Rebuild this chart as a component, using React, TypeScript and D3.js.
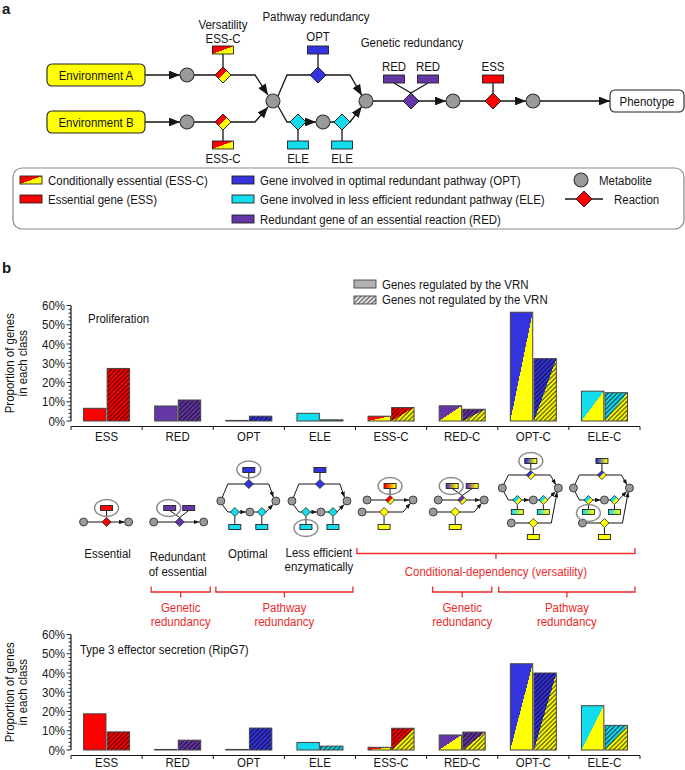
import React from 'react';
import * as d3 from 'd3';

// ---- data (percent of genes in each class) ----
const categories = ['ESS', 'RED', 'OPT', 'ELE', 'ESS-C', 'RED-C', 'OPT-C', 'ELE-C'];
const proliferationRegulated = [6.6, 7.8, 0.3, 4.0, 2.5, 7.9, 56.5, 15.5];
const proliferationNotRegulated = [27.3, 10.9, 2.5, 0.6, 7.0, 6.1, 32.4, 14.7];
const secretionRegulated = [18.8, 0.3, 0.3, 3.9, 1.4, 7.8, 44.8, 23.0];
const secretionNotRegulated = [9.4, 5.1, 11.4, 2.0, 11.3, 9.3, 40.0, 12.8];
const yTicks = [0, 10, 20, 30, 40, 50, 60];
const groups = ['regulated', 'notRegulated'];

// ---- styles ----
const C = {
  red: '#ff0000',
  yellow: '#ffff00',
  blue: '#3434de',
  cyan: '#14dcef',
  purple: '#6537a6',
  grey: '#9a9a9a',
  note: '#ec2b2b',
  ink: '#151515',
};
const pairs: Record<string, [string, string]> = {
  ry: [C.red, C.yellow],
  py: [C.purple, C.yellow],
  by: [C.blue, C.yellow],
  cy: [C.cyan, C.yellow],
};
// colour key of each category (single colour or a pair)
const catFill = [C.red, C.purple, C.blue, C.cyan, 'ry', 'py', 'by', 'cy'];
const catDiagram = ['ess', 'red', 'opt', 'ele', 'essc', 'redc', 'optc', 'elec'];

const FONT = "'Liberation Sans', Arial, Helvetica, sans-serif";
const SX = 0.85;

const solid = (k: string) => (pairs[k] ? `url(#split-${k})` : k);
const smooth = (k: string) => (pairs[k] ? `url(#grad-${k})` : k);

function T({ x, y, children, anchor = 'start', size = 13.5, fill = C.ink, weight = 'normal', rotate = 0, sx = SX }: any) {
  return (
    <text
      transform={`translate(${x},${y})${rotate ? ` rotate(${rotate})` : ''} scale(${sx},1)`}
      textAnchor={anchor}
      fontSize={size}
      fill={fill}
      fontWeight={weight}
      fontFamily={FONT}
    >
      {children}
    </text>
  );
}

const Dot = ({ x, y, r }: any) => (
  <circle cx={x} cy={y} r={r} fill={C.grey} stroke="#333" strokeWidth={r > 5 ? 1.1 : 0.9} />
);
const Diamond = ({ x, y, h, fill }: any) => (
  <polygon
    points={`${x},${y - h} ${x + h},${y} ${x},${y + h} ${x - h},${y}`}
    fill={fill}
    stroke="#222"
    strokeWidth={h > 5 ? 1 : 0.8}
  />
);
const Box = ({ x, y, w, h, fill }: any) => (
  <rect x={x - w / 2} y={y - h / 2} width={w} height={h} fill={fill} stroke="#222" strokeWidth={0.9} />
);
const Path = ({ pts, arrow, w = 1.3 }: any) => (
  <polyline
    points={pts.map((p: number[]) => p.join(',')).join(' ')}
    fill="none"
    stroke={C.ink}
    strokeWidth={w}
    markerEnd={arrow ? `url(#${arrow})` : undefined}
  />
);

function Defs() {
  return (
    <defs>
      {Object.entries(pairs).map(([k, [a, b]]) => (
        <React.Fragment key={k}>
          <linearGradient id={`split-${k}`} x1="0" y1="0" x2="1" y2="1">
            <stop offset="0" stopColor={a} />
            <stop offset="0.5" stopColor={a} />
            <stop offset="0.5" stopColor={b} />
            <stop offset="1" stopColor={b} />
          </linearGradient>
          <linearGradient id={`grad-${k}`} x1="0" y1="0" x2="1" y2="0">
            <stop offset="0.1" stopColor={a} />
            <stop offset="0.9" stopColor={b} />
          </linearGradient>
        </React.Fragment>
      ))}
      <pattern id="hatch" patternUnits="userSpaceOnUse" width={3.2} height={3.2} patternTransform="rotate(45)">
        <line x1={0.8} y1={0} x2={0.8} y2={3.2} stroke="rgba(0,0,0,0.55)" strokeWidth={1.5} />
      </pattern>
      <pattern id="hatchKey" patternUnits="userSpaceOnUse" width={3.2} height={3.2} patternTransform="rotate(45)">
        <line x1={0.8} y1={0} x2={0.8} y2={3.2} stroke="#6a6a6a" strokeWidth={1.3} />
      </pattern>
      <marker id="arrA" viewBox="0 0 10 8" refX={10} refY={4} markerWidth={11} markerHeight={8.8} markerUnits="userSpaceOnUse" orient="auto">
        <path d="M0,0 L10,4 L0,8 z" fill={C.ink} />
      </marker>
      <marker id="arrB" viewBox="0 0 10 8" refX={10} refY={4} markerWidth={5.5} markerHeight={4.4} markerUnits="userSpaceOnUse" orient="auto">
        <path d="M0,0 L10,4 L0,8 z" fill={C.ink} />
      </marker>
    </defs>
  );
}

// ---------------- panel a ----------------
function PanelA() {
  const gw = 21;
  const gh = 8;
  const circles = [[187, 75], [187, 122], [273, 101], [323, 122], [366, 101], [453, 101], [533, 101]];
  const diamonds: [number, number, string][] = [
    [223, 75, solid('ry')], [223, 122, solid('ry')], [318, 75, C.blue], [298, 122, C.cyan],
    [342, 122, C.cyan], [411, 101, C.purple], [493, 101, C.red],
  ];
  const boxes: [number, number, string][] = [
    [223, 50, solid('ry')], [223, 145, solid('ry')], [318, 50, C.blue], [298, 145, C.cyan],
    [342, 145, C.cyan], [394, 79, C.purple], [428, 79, C.purple], [493, 79, C.red],
  ];
  return (
    <g>
      <T x={2} y={14} size={15} weight="bold" sx={1}>a</T>

      <Path pts={[[145, 75], [180, 75]]} arrow="arrA" />
      <Path pts={[[194, 75], [255, 75], [268, 95]]} arrow="arrA" />
      <Path pts={[[145, 122], [180, 122]]} arrow="arrA" />
      <Path pts={[[194, 122], [255, 122], [268, 107]]} arrow="arrA" />
      <Path pts={[[223, 54], [223, 67]]} />
      <Path pts={[[223, 130], [223, 141]]} />
      <Path pts={[[278, 96], [287, 75], [350, 75], [361.8, 95.5]]} arrow="arrA" />
      <Path pts={[[318, 54], [318, 67]]} />
      <Path pts={[[278, 106], [287, 122], [316, 122]]} arrow="arrA" />
      <Path pts={[[330, 122], [350, 122], [361.8, 106.6]]} arrow="arrA" />
      <Path pts={[[298, 130], [298, 141]]} />
      <Path pts={[[342, 130], [342, 141]]} />
      <Path pts={[[373, 101], [446, 101]]} arrow="arrA" />
      <Path pts={[[394, 83], [411, 93]]} />
      <Path pts={[[428, 83], [411, 93]]} />
      <Path pts={[[460, 101], [526, 101]]} arrow="arrA" />
      <Path pts={[[493, 83], [493, 93]]} />
      <Path pts={[[540, 101], [610, 101]]} arrow="arrA" />

      {[['Environment A', 75], ['Environment B', 122]].map(([label, ry]: any) => (
        <g key={label}>
          <rect x={47} y={ry - 11} width={98} height={22} rx={5} fill={C.yellow} stroke="#222" strokeWidth={1.1} />
          <T x={96} y={ry + 4.5} anchor="middle">{label}</T>
        </g>
      ))}
      <rect x={610} y={90} width={74} height={22} rx={5} fill="#fff" stroke="#222" strokeWidth={1.1} />
      <T x={647} y={105.5} anchor="middle">Phenotype</T>

      {circles.map(([x, y], i) => <Dot key={i} x={x} y={y} r={7} />)}
      {diamonds.map(([x, y, f], i) => <Diamond key={i} x={x} y={y} h={8} fill={f} />)}
      {boxes.map(([x, y, f], i) => <Box key={i} x={x} y={y} w={gw} h={gh} fill={f} />)}

      <T x={223} y={29} anchor="middle">Versatility</T>
      <T x={223} y={43} anchor="middle">ESS-C</T>
      <T x={316} y={21} anchor="middle">Pathway redundancy</T>
      <T x={318} y={41} anchor="middle">OPT</T>
      <T x={412} y={47} anchor="middle">Genetic redundancy</T>
      <T x={394} y={71} anchor="middle">RED</T>
      <T x={428} y={71} anchor="middle">RED</T>
      <T x={493} y={71} anchor="middle">ESS</T>
      <T x={223} y={163} anchor="middle">ESS-C</T>
      <T x={298} y={163} anchor="middle">ELE</T>
      <T x={342} y={163} anchor="middle">ELE</T>

      {/* key */}
      <rect x={13} y={168} width={671} height={61} rx={9} fill="#fff" stroke="#8a8a8a" strokeWidth={1.2} />
      {[
        [20, 180, solid('ry'), 'Conditionally essential (ESS-C)'],
        [20, 199, C.red, 'Essential gene (ESS)'],
        [232, 180, C.blue, 'Gene involved in optimal redundant pathway (OPT)'],
        [232, 199, C.cyan, 'Gene involved in less efficient redundant pathway (ELE)'],
        [232, 219, C.purple, 'Redundant gene of an essential reaction (RED)'],
      ].map(([x, y, f, label]: any) => (
        <g key={label}>
          <rect x={x} y={y - 4} width={22} height={8} fill={f} stroke="#222" strokeWidth={0.9} />
          <T x={x + 28} y={y + 4.5}>{label}</T>
        </g>
      ))}
      <Dot x={581} y={180} r={7} />
      <T x={599} y={184.5}>Metabolite</T>
      <Path pts={[[565, 199], [603, 199]]} w={1.6} />
      <Diamond x={584} y={199} h={8} fill={C.red} />
      <T x={614} y={203.5}>Reaction</T>
    </g>
  );
}

// ---------------- panel b ----------------
const AX0 = 71;
const AX1 = 640;
const x = d3.scaleBand().domain(categories).range([AX0, AX1]);
const xs = d3.scaleBand().domain(groups).range([0, 46]).paddingInner(0.05);
const barOffset = (x.bandwidth() - 46) / 2;
const cx = (c: string) => (x(c) as number) + x.bandwidth() / 2;

function BarChart({ zeroY, reg, notReg, title, titleX, titleY, labelDy = 20 }: any) {
  const y = d3.scaleLinear().domain([0, 60]).range([zeroY, zeroY - 115.5]);
  const minor = d3.range(0, 61, 2);
  const axisY = zeroY + 5.5;
  const bounds = [...categories.map((c) => x(c) as number), AX1];
  return (
    <g>
      <line x1={AX0} x2={AX0} y1={y(0)} y2={y(60)} stroke={C.ink} strokeWidth={1.2} />
      {minor.map((v) => (
        <line key={v} x1={AX0 - (v % 10 === 0 ? 4.5 : 2.5)} x2={AX0} y1={y(v)} y2={y(v)} stroke={C.ink} strokeWidth={0.9} />
      ))}
      {yTicks.map((v) => (
        <T key={v} x={AX0 - 6} y={y(v) + 4.5} anchor="end">{`${v}%`}</T>
      ))}
      <T x={14} y={y(30)} anchor="middle" rotate={-90}>Proportion of genes</T>
      <T x={27} y={y(30)} anchor="middle" rotate={-90}>in each class</T>

      <line x1={AX0} x2={AX1} y1={axisY} y2={axisY} stroke={C.ink} strokeWidth={1.2} />
      {bounds.map((b, i) => (
        <line key={i} x1={b} x2={b} y1={axisY} y2={axisY + 3.5} stroke={C.ink} strokeWidth={1} />
      ))}
      {categories.map((c) => (
        <T key={c} x={cx(c)} y={zeroY + labelDy} anchor="middle">{c}</T>
      ))}

      {categories.map((c, i) =>
        groups.map((g) => {
          const v = g === 'regulated' ? reg[i] : notReg[i];
          const bx = (x(c) as number) + barOffset + (xs(g) as number);
          const by = y(v);
          const bw = xs.bandwidth();
          const bh = zeroY - by;
          return (
            <g key={c + g}>
              <rect x={bx} y={by} width={bw} height={bh} fill={solid(catFill[i])} />
              {g === 'notRegulated' && <rect x={bx} y={by} width={bw} height={bh} fill="url(#hatch)" />}
              <rect x={bx} y={by} width={bw} height={bh} fill="none" stroke="#444" strokeWidth={1} />
            </g>
          );
        })
      )}
      <T x={titleX} y={titleY}>{title}</T>
    </g>
  );
}

// small schematics of each gene class, positioned on the category centres
function Schematic({ kind, ox }: any) {
  const P = (pts: number[][], arrow?: boolean) => (
    <Path pts={pts.map(([a, b]) => [ox + a, b])} arrow={arrow ? 'arrB' : undefined} w={1} />
  );
  const D = (a: number, b: number, f: string) => <Diamond x={ox + a} y={b} h={4.5} fill={f} />;
  const O = (a: number, b: number) => <Dot x={ox + a} y={b} r={4} />;
  const B = (a: number, b: number, f: string) => <Box x={ox + a} y={b} w={12} h={5} fill={f} />;
  const R = (a: number, b: number) => (
    <ellipse cx={ox + a} cy={b} rx={12} ry={8.5} fill="none" stroke="#8a8a8a" strokeWidth={1.4} />
  );

  if (kind === 'ess') {
    return (
      <g>
        {P([[-19, 522], [18, 522]], true)}
        {P([[0, 510.5], [0, 517.5]])}
        {O(-23, 522)}{O(22, 522)}
        {D(0, 522, C.red)}
        {B(0, 508, C.red)}
        {R(0, 508)}
      </g>
    );
  }
  if (kind === 'red') {
    return (
      <g>
        {P([[-20, 522], [21.5, 522]], true)}
        {P([[-8, 510.5], [2, 517.5]])}
        {P([[11, 510.5], [2, 517.5]])}
        {O(-24, 522)}{O(26, 522)}
        {D(2, 522, C.purple)}
        {B(-8, 508, C.purple)}{B(11, 508, C.purple)}
        {R(-9, 508)}
      </g>
    );
  }
  if (kind === 'opt' || kind === 'ele') {
    return (
      <g>
        {P([[-26.5, 497.3], [-21, 484], [20, 484], [24.5, 497.2]], true)}
        {P([[0, 472.5], [0, 479.5]])}
        {P([[-26.5, 504.7], [-21, 512], [-3, 512]], true)}
        {P([[5, 512], [17, 512], [24.3, 504.5]], true)}
        {P([[-14, 516.5], [-14, 524.5]])}
        {P([[13, 516.5], [13, 524.5]])}
        {O(-28, 501)}{O(27, 501)}{O(1, 512)}
        {D(0, 484, C.blue)}
        {D(-14, 512, C.cyan)}{D(13, 512, C.cyan)}
        {B(0, 470, C.blue)}
        {B(-14, 527, C.cyan)}{B(13, 527, C.cyan)}
        {kind === 'opt' ? R(0, 469.5) : R(-14, 528)}
      </g>
    );
  }
  if (kind === 'essc' || kind === 'redc') {
    const isEss = kind === 'essc';
    const k = isEss ? 'ry' : 'py';
    return (
      <g>
        {P([[-20, 500], [18, 500]], true)}
        {isEss ? P([[-1, 488.5], [-1, 495.5]]) : null}
        {!isEss ? P([[-10, 488.5], [0, 495.5]]) : null}
        {!isEss ? P([[10, 488.5], [0, 495.5]]) : null}
        {P([[-25, 512], [12, 512], [19.4, 503.2]], true)}
        {P([[-7, 516.5], [-7, 524.5]])}
        {O(-24, 500)}{O(22, 500)}{O(-29, 512)}
        {D(isEss ? -1 : 0, 500, solid(k))}
        {D(-7, 512, C.yellow)}
        {isEss ? B(-1, 486, smooth(k)) : null}
        {!isEss ? B(-10, 486, smooth(k)) : null}
        {!isEss ? B(10, 486, smooth(k)) : null}
        {B(-7, 527, C.yellow)}
        {isEss ? R(-1, 486) : R(-11, 486)}
      </g>
    );
  }
  // optc / elec
  const k2 = 'by';
  return (
    <g>
      {P([[-29.5, 484.3], [-25, 475], [17, 475], [22.5, 484.8]], true)}
      {P([[-2.5, 463.5], [-2.5, 470.5]])}
      {P([[-29.5, 491.7], [-25, 500], [-4, 500]], true)}
      {P([[4, 500], [14, 500], [22.2, 491.5]], true)}
      {P([[-16, 504.5], [-16, 509.5]])}
      {P([[10, 504.5], [10, 509.5]])}
      {P([[-18, 523], [18, 523], [23.8, 491.9]], true)}
      {P([[0, 527.5], [0, 534.5]])}
      {O(-31, 488)}{O(25, 488)}{O(0, 500)}{O(-22, 523)}
      {D(-2.5, 475, solid(k2))}
      {D(-16, 500, solid('cy'))}{D(10, 500, solid('cy'))}
      {D(0, 523, C.yellow)}
      {B(-2.5, 461, smooth(k2))}
      {B(-16, 512, smooth('cy'))}{B(10, 512, smooth('cy'))}
      {B(0, 537, C.yellow)}
      {kind === 'optc' ? R(-2.5, 461) : R(-16, 513)}
    </g>
  );
}

function Bracket({ x1, x2, y, up = 5.5, down = 5.5 }: any) {
  const m = (x1 + x2) / 2;
  return (
    <path
      d={`M${x1},${y - up} V${y} H${x2} V${y - up} M${m},${y} V${y + down}`}
      fill="none"
      stroke={C.note}
      strokeWidth={1.3}
    />
  );
}

function PanelB() {
  const span = (a: string, b: string, i1: number, i2: number) => [
    (x(a) as number) + i1,
    (x(b) as number) + x.bandwidth() - i2,
  ];
  const [g1a, g1b] = span('RED', 'RED', 9, 3);
  const [p1a, p1b] = span('OPT', 'ELE', 2.6, 2.6);
  const [cda, cdb] = span('ESS-C', 'ELE-C', 1.4, 5);
  const [g2a, g2b] = span('RED-C', 'RED-C', 6, 6);
  const [p2a, p2b] = span('OPT-C', 'ELE-C', 1, 5);
  return (
    <g>
      <T x={2} y={273} size={15} weight="bold" sx={1}>b</T>

      <rect x={354} y={280} width={22} height={8} fill="#b2b2b2" stroke="#444" strokeWidth={0.9} />
      <T x={382} y={288.5}>Genes regulated by the VRN</T>
      <rect x={354} y={296} width={22} height={8} fill="#e6e6e6" />
      <rect x={354} y={296} width={22} height={8} fill="url(#hatchKey)" stroke="#444" strokeWidth={0.9} />
      <T x={382} y={304}>Genes not regulated by the VRN</T>

      <BarChart
        zeroY={421}
        reg={proliferationRegulated}
        notReg={proliferationNotRegulated}
        title="Proliferation"
        titleX={88}
        titleY={322.5}
      />

      {categories.map((c, i) => (
        <Schematic key={c} kind={catDiagram[i]} ox={cx(c)} />
      ))}

      <T x={cx('ESS') + 1} y={558} anchor="middle">Essential</T>
      <T x={cx('RED')} y={560.5} anchor="middle">Redundant</T>
      <T x={cx('RED')} y={575.5} anchor="middle">of essential</T>
      <T x={cx('OPT') - 1} y={558} anchor="middle">Optimal</T>
      <T x={cx('ELE') - 1} y={557} anchor="middle">Less efficient</T>
      <T x={cx('ELE') - 1} y={571} anchor="middle">enzymatically</T>

      <Bracket x1={cda} x2={cdb} y={553.5} />
      <T x={(cda + cdb) / 2} y={575.5} anchor="middle" fill={C.note}>Conditional-dependency (versatility)</T>

      <Bracket x1={g1a} x2={g1b} y={592} />
      <Bracket x1={p1a} x2={p1b} y={592} />
      <Bracket x1={g2a} x2={g2b} y={592} />
      <Bracket x1={p2a} x2={p2b} y={592} />
      {[
        [(g1a + g1b) / 2, 'Genetic'],
        [(p1a + p1b) / 2, 'Pathway'],
        [(g2a + g2b) / 2, 'Genetic'],
        [(p2a + p2b) / 2, 'Pathway'],
      ].map(([m, w]: any, i) => (
        <g key={i}>
          <T x={m} y={612} anchor="middle" fill={C.note}>{w}</T>
          <T x={m} y={626} anchor="middle" fill={C.note}>redundancy</T>
        </g>
      ))}

      <BarChart
        zeroY={750}
        reg={secretionRegulated}
        notReg={secretionNotRegulated}
        title="Type 3 effector secretion (RipG7)"
        titleX={80}
        titleY={653.5}
        labelDy={17}
      />
    </g>
  );
}

export default function App() {
  return (
    <svg
      width={685}
      height={770}
      viewBox="0 0 685 770"
      style={{ position: 'absolute', left: 0, top: 0, background: '#fff' }}
    >
      <Defs />
      <rect width={685} height={770} fill="#fff" />
      <PanelA />
      <PanelB />
    </svg>
  );
}
